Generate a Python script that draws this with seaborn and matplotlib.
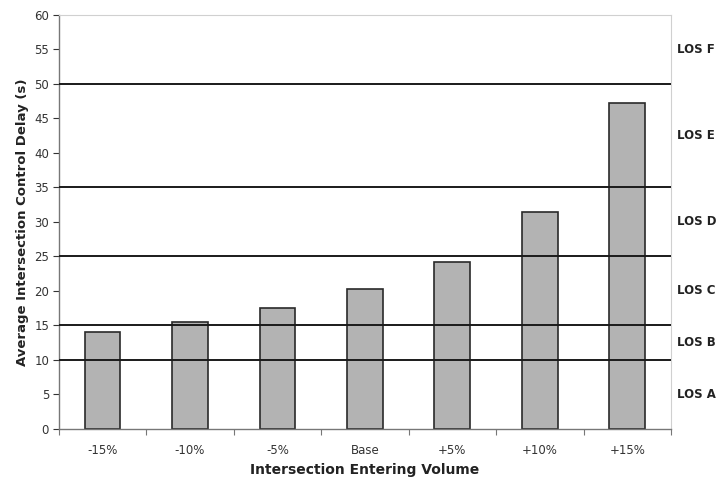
import matplotlib
matplotlib.use("Agg")
import matplotlib.pyplot as plt
import seaborn as sns
import pandas as pd

scenarios = ["-15%", "-10%", "-5%", "Base", "+5%", "+10%", "+15%"]
delay = [14.0, 15.5, 17.5, 20.3, 24.2, 31.4, 47.2]

los_thresholds = [10, 15, 25, 35, 50]
los_labels = ["LOS A", "LOS B", "LOS C", "LOS D", "LOS E", "LOS F"]
los_label_y = [5, 12.5, 20, 30, 42.5, 55]

sns.set_theme(style="white")
plt.rcParams["font.family"] = ["DejaVu Sans"]

df = pd.DataFrame({"scenario": scenarios, "delay": delay})

fig = plt.figure(figsize=(7.17, 4.84), dpi=100)
ax = fig.add_axes([0.082, 0.114, 0.854, 0.855])

sns.barplot(data=df, x="scenario", y="delay", order=scenarios, color="#b3b3b3",
            saturation=1, edgecolor="#2a2a2a", linewidth=1.2, width=0.41, ax=ax,
            zorder=2)

for t in los_thresholds:
    ax.axhline(t, color="#1a1a1a", linewidth=1.4, zorder=3)

ax.set_ylim(0, 60)
ax.set_xlim(-0.5, len(scenarios) - 0.5)
ax.set_yticks(range(0, 61, 5))
ax.tick_params(axis="y", labelsize=8.5, colors="#333333", length=4, width=0.8,
               direction="out", left=True, pad=3)
ax.tick_params(axis="x", labelsize=8.5, colors="#333333", length=0, pad=11)
# category-boundary tick marks on the x axis
ax.set_xticks([i - 0.5 for i in range(len(scenarios) + 1)], minor=True)
ax.tick_params(axis="x", which="minor", length=4, width=0.8, color="#777777",
               direction="out", bottom=True)

for side in ["left", "bottom"]:
    ax.spines[side].set_color("#777777")
    ax.spines[side].set_linewidth(1.0)
for side in ["top", "right"]:
    ax.spines[side].set_color("#d0d0d0")
    ax.spines[side].set_linewidth(0.8)

ax.set_xlabel("Intersection Entering Volume", fontsize=10, fontweight="bold",
              color="#222222", labelpad=4)
ax.set_ylabel("Average Intersection Control Delay (s)", fontsize=9.5,
              fontweight="bold", color="#222222", labelpad=4)

for lbl, yv in zip(los_labels, los_label_y):
    ax.text(1.01, yv, lbl, transform=ax.get_yaxis_transform(), fontsize=8.5,
            fontweight="bold", color="#222222", va="center", ha="left")

fig.savefig("out.png", dpi=100)
